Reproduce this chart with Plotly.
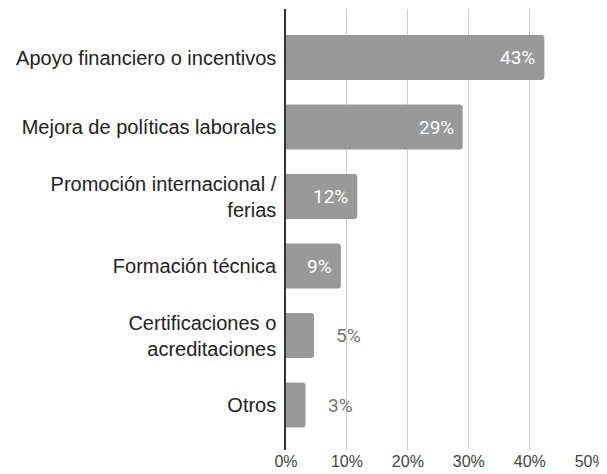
import plotly.graph_objects as go

categories = [
    "Apoyo financiero o incentivos",
    "Mejora de políticas laborales",
    "Promoción internacional /<br>ferias",
    "Formación técnica",
    "Certificaciones o<br>acreditaciones",
    "Otros",
]
values = [42.4, 29.0, 11.7, 9.0, 4.6, 3.2]
value_labels = ["43%", "29%", "12%", "9%", "5%", "3%"]
x_ticks = [0, 10, 20, 30, 40, 50]
x_tick_labels = ["0%", "10%", "20%", "30%", "40%", "50%"]

fig = go.Figure(
    go.Bar(
        x=values,
        y=categories,
        orientation="h",
        marker=dict(color="#999999", line=dict(width=0)),
        hoverinfo="skip",
    )
)

annotations = []
for cat, v, lab in zip(categories, values, value_labels):
    inside = v >= 8
    annotations.append(
        dict(
            x=v,
            y=cat,
            xref="x",
            yref="y",
            text=lab,
            showarrow=False,
            xanchor="right" if inside else "left",
            xshift=-7 if inside else 20,
            font=dict(family="Roboto", size=19, color="#ffffff" if inside else "#757575"),
        )
    )

fig.update_layout(
    width=599,
    height=466,
    margin=dict(l=278, r=16, t=1, b=24),
    paper_bgcolor="white",
    plot_bgcolor="white",
    showlegend=False,
    bargap=0.35,
    barcornerradius=3,
    annotations=annotations,
)
fig.update_xaxes(
    automargin=False,
    range=[0, 50.05],
    tickvals=x_ticks,
    ticktext=x_tick_labels,
    showgrid=True,
    gridcolor="#cccccc",
    gridwidth=1,
    zeroline=False,
    showline=False,
    ticks="",
    tickfont=dict(family="Liberation Sans", size=16, color="#444444"),
)
fig.update_yaxes(
    automargin=False,
    type="category",
    categoryorder="array",
    categoryarray=categories,
    range=[5.647, -0.698],
    showline=True,
    linecolor="#333333",
    linewidth=1.5,
    showgrid=False,
    ticks="outside",
    ticklen=4,
    tickcolor="rgba(0,0,0,0)",
    tickfont=dict(family="Liberation Sans", size=20, color="#222222"),
)

fig.write_html("out.html")
